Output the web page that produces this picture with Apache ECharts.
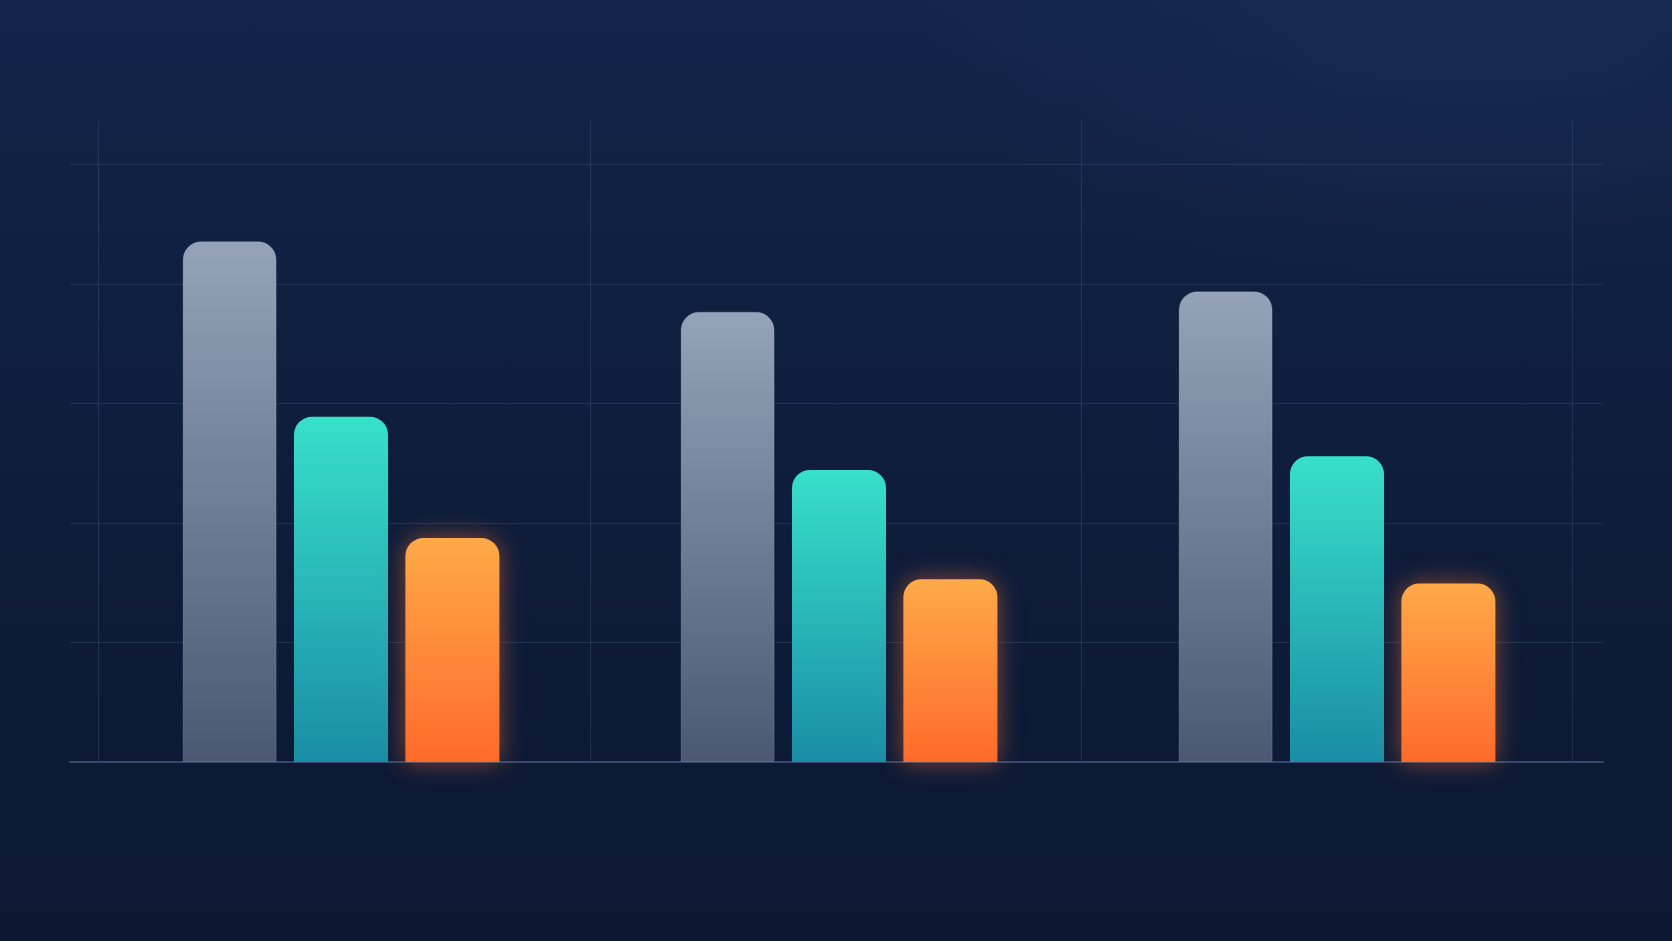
<!DOCTYPE html>
<html>
<head>
<meta charset="utf-8">
<script src="https://cdn.jsdelivr.net/npm/echarts@6/dist/echarts.min.js"></script>
<style>
html,body{margin:0;padding:0;width:1672px;height:941px;overflow:hidden;}
body{background:
  radial-gradient(ellipse 800px 420px at 88% 0%, rgba(28,52,92,0.40), rgba(28,52,92,0) 70%),
  linear-gradient(180deg,#12244a 0%,#0f1f3f 35%,#0d1b38 70%,#0c1832 100%);}
#c{width:1672px;height:941px;}
</style>
</head>
<body>
<div id="c"></div>
<script>
var categories = ['Group 1', 'Group 2', 'Group 3'];
var seriesGray = [87.2, 75.4, 78.8];
var seriesTeal = [57.8, 48.9, 51.2];
var seriesOrange = [37.5, 30.6, 29.9];
var yTicks = [0, 20, 40, 60, 80, 100];

var chart = echarts.init(document.getElementById('c'));
function grad(top, bottom) {
  return new echarts.graphic.LinearGradient(0, 0, 0, 1, [
    {offset: 0, color: top}, {offset: 1, color: bottom}
  ]);
}
var gridLine = 'rgba(90,120,165,0.24)';
var option = {
  backgroundColor: 'transparent',
  animation: false,
  grid: [
    {left: 70, right: 69, top: 164.7, bottom: 179, containLabel: false},
    {left: 98.7, right: 99.3, top: 121, bottom: 179, containLabel: false},
    {left: 92, right: 86, top: 164.7, bottom: 179, containLabel: false}
  ],
  xAxis: [
    {gridIndex: 0, type: 'value', min: 0, max: 1, show: true,
     axisLine: {show: true, onZero: false, lineStyle: {color: '#33486c', width: 2}},
     axisTick: {show: false}, axisLabel: {show: false}, splitLine: {show: false}},
    {gridIndex: 1, type: 'value', min: 0, max: 3, interval: 1,
     axisLine: {show: false}, axisTick: {show: false}, axisLabel: {show: false},
     splitLine: {show: true, lineStyle: {color: gridLine, width: 1}}},
    {gridIndex: 2, type: 'category', data: categories,
     axisLine: {show: false}, axisTick: {show: false}, axisLabel: {show: false},
     splitLine: {show: false}}
  ],
  yAxis: [
    {gridIndex: 0, type: 'value', min: yTicks[0], max: yTicks[yTicks.length - 1], interval: 20,
     axisLine: {show: false}, axisTick: {show: false}, axisLabel: {show: false},
     splitLine: {show: true, lineStyle: {color: gridLine, width: 1}}},
    {gridIndex: 1, type: 'value', min: 0, max: 1,
     axisLine: {show: false}, axisTick: {show: false}, axisLabel: {show: false},
     splitLine: {show: false}},
    {gridIndex: 2, type: 'value', min: 0, max: 100,
     axisLine: {show: false}, axisTick: {show: false}, axisLabel: {show: false},
     splitLine: {show: false}}
  ],
  series: [
    {type: 'bar', xAxisIndex: 2, yAxisIndex: 2, data: seriesGray,
     barWidth: 94, barGap: '18.5%',
     itemStyle: {color: grad('#95a3b8', '#4a5872'), borderRadius: [18, 18, 0, 0],
       borderColor: 'rgba(180,195,215,0.22)', borderWidth: 1}},
    {type: 'bar', xAxisIndex: 2, yAxisIndex: 2, data: seriesTeal,
     barWidth: 94, barGap: '18.5%',
     itemStyle: {color: grad('#38e0ca', '#198da5'), borderRadius: [18, 18, 0, 0]}},
    {type: 'bar', xAxisIndex: 2, yAxisIndex: 2, data: seriesOrange,
     barWidth: 94, barGap: '18.5%',
     itemStyle: {color: grad('#ffaa48', '#ff6a2b'), borderRadius: [18, 18, 0, 0],
       shadowColor: 'rgba(255,115,40,0.5)', shadowBlur: 24}}
  ]
};
chart.setOption(option);
</script>
</body>
</html>
